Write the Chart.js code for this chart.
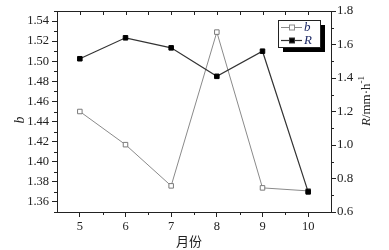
<!DOCTYPE html>
<html>
<head>
<meta charset="utf-8">
<script src="https://cdn.jsdelivr.net/npm/chart.js@4"></script>
<style>
  html, body { margin:0; padding:0; background:#fff; }
  #c { display:block; }
</style>
</head>
<body>
<canvas id="c" width="389" height="250"></canvas>
<script>
// data
const months = [5, 6, 7, 8, 9, 10];
const bValues = [1.450, 1.417, 1.376, 1.529, 1.374, 1.371];
const rValues = [1.515, 1.640, 1.580, 1.410, 1.560, 0.720];

const monthTicks = [5, 6, 7, 8, 9, 10];
const bTicks = [1.36, 1.38, 1.40, 1.42, 1.44, 1.46, 1.48, 1.50, 1.52, 1.54];
const rTicks = [0.6, 0.8, 1.0, 1.2, 1.4, 1.6, 1.8];

const SERIF = "'Liberation Serif', 'DejaVu Serif', serif";
const INK = "#222";

function pts(ys){ return months.map((m,i)=>({x:m, y:ys[i]})); }

// minor ticks, top ticks, frame, titles, legend with shadow
const decor = {
  id: "decor",
  afterDraw(chart){
    const ctx = chart.ctx;
    const a = chart.chartArea;
    const sx = chart.scales.x, sy = chart.scales.y, sr = chart.scales.y1;
    ctx.save();
    ctx.strokeStyle = INK;
    ctx.lineWidth = 1;
    ctx.strokeRect(Math.round(a.left)+0.5, Math.round(a.top)+0.5, Math.round(a.right-a.left), Math.round(a.bottom-a.top));

    ctx.beginPath();
    // x minor (bottom, outward) and top ticks (inward)
    for(let k=9; k<=21; k++){
      const v = k/2;
      const px = Math.round(sx.getPixelForValue(v))+0.5;
      if(k%2===1 && v>sx.min && v<sx.max){ ctx.moveTo(px, a.bottom); ctx.lineTo(px, a.bottom+3); }
      if(v>sx.min && v<sx.max){ ctx.moveTo(px, a.top); ctx.lineTo(px, a.top+4); }
    }
    // left minor
    for(let k=135; k<=155; k+=2){
      const py = Math.round(sy.getPixelForValue(k/100))+0.5;
      ctx.moveTo(a.left-3, py); ctx.lineTo(a.left, py);
    }
    // right minor
    for(let k=7; k<=17; k+=2){
      const py = Math.round(sr.getPixelForValue(k/10))+0.5;
      ctx.moveTo(a.right, py); ctx.lineTo(a.right+3, py);
    }
    ctx.stroke();

    // axis titles
    ctx.fillStyle = INK;
    ctx.textAlign = "center";
    ctx.textBaseline = "middle";
    ctx.save();
    ctx.translate(20, 120);
    ctx.rotate(-Math.PI/2);
    ctx.font = "italic 14px " + SERIF;
    ctx.fillText("b", 0, 0);
    ctx.restore();

    ctx.font = "13px 'Noto Sans CJK SC', sans-serif";
    ctx.fillText("月份", 189, 241);

    ctx.save();
    ctx.translate(367, 101);
    ctx.rotate(-Math.PI/2);
    const f1 = "italic 13px " + SERIF, f2 = "13px " + SERIF, f3 = "9px " + SERIF;
    ctx.font = f1; const w1 = ctx.measureText("R").width;
    ctx.font = f2; const w2 = ctx.measureText("/mm\u00b7h").width;
    ctx.font = f3; const w3 = ctx.measureText("-1").width;
    let x0 = -(w1+w2+w3)/2;
    ctx.textAlign = "left";
    ctx.font = f1; ctx.fillText("R", x0, 0); x0 += w1;
    ctx.font = f2; ctx.fillText("/mm\u00b7h", x0, 0); x0 += w2;
    ctx.font = f3; ctx.fillText("-1", x0, -5);
    ctx.restore();

    // legend box with shadow
    const bx = 278, by = 20, bw = 42, bh = 27;
    ctx.fillStyle = "#000";
    ctx.fillRect(bx+5, by+5, bw, bh);
    ctx.fillStyle = "#fff";
    ctx.fillRect(bx, by, bw, bh);
    ctx.strokeStyle = INK;
    ctx.strokeRect(bx+0.5, by+0.5, bw, bh);
    chart.data.datasets.forEach((ds, i)=>{
      const y = by + 7.5 + i*13;
      ctx.strokeStyle = ds.borderColor;
      ctx.lineWidth = ds.borderWidth;
      ctx.beginPath(); ctx.moveTo(bx+3, y); ctx.lineTo(bx+24, y); ctx.stroke();
      ctx.fillStyle = ds.pointBackgroundColor;
      ctx.lineWidth = 1;
      ctx.fillRect(bx+11.5, y-2.5, 5, 5);
      ctx.strokeRect(bx+11.5, y-2.5, 5, 5);
      ctx.fillStyle = "#1e2a66";
      ctx.font = "italic 13px " + SERIF;
      ctx.textAlign = "left";
      ctx.fillText(ds.label, bx+26, y+0.5);
    });
    ctx.restore();
  }
};

new Chart(document.getElementById("c"), {
  type: "line",
  data: {
    datasets: [
      {
        label: "b", data: pts(bValues), yAxisID: "y", order: 1,
        borderColor: "#8a8a8a", borderWidth: 1,
        pointStyle: "rect", pointRadius: 3.2, pointBackgroundColor: "#fff",
        pointBorderColor: "#7a7a7a", pointBorderWidth: 1, tension: 0
      },
      {
        label: "R", data: pts(rValues), yAxisID: "y1", order: 0,
        borderColor: "#333", borderWidth: 1.2,
        pointStyle: "rect", pointRadius: 3.2, pointBackgroundColor: "#000",
        pointBorderColor: "#000", pointBorderWidth: 1, tension: 0
      }
    ]
  },
  options: {
    responsive: false,
    animation: false,
    devicePixelRatio: 1,
    layout: { padding: { top: 11, left: 0, right: 0, bottom: 0 } },
    plugins: { legend: { display: false }, tooltip: { enabled: false } },
    scales: {
      x: {
        type: "linear", min: 4.5, max: 10.5,
        afterBuildTicks: s => { s.ticks = monthTicks.map(v => ({ value: v })); },
        afterFit: s => { s.height = 38; },
        grid: { display: true, drawOnChartArea: false, drawTicks: true, tickLength: 5, tickColor: INK },
        border: { display: true, color: INK, width: 1 },
        ticks: { color: INK, padding: 2, maxRotation: 0, font: { family: SERIF, size: 12.5 } }
      },
      y: {
        position: "left", min: 1.35, max: 1.55,
        afterBuildTicks: s => { s.ticks = bTicks.map(v => ({ value: v })); },
        afterFit: s => { s.width = 57; },
        grid: { display: true, drawOnChartArea: false, drawTicks: true, tickLength: 5, tickColor: INK },
        border: { display: true, color: INK, width: 1 },
        ticks: { color: INK, padding: 3, font: { family: SERIF, size: 12.5 }, callback: v => v.toFixed(2) }
      },
      y1: {
        position: "right", min: 0.6, max: 1.8,
        afterBuildTicks: s => { s.ticks = rTicks.map(v => ({ value: v })); },
        afterFit: s => { s.width = 58; },
        grid: { display: true, drawOnChartArea: false, drawTicks: true, tickLength: 5, tickColor: INK },
        border: { display: true, color: INK, width: 1 },
        ticks: { color: INK, padding: 1, font: { family: SERIF, size: 13 }, callback: v => v.toFixed(1) }
      }
    }
  },
  plugins: [decor]
});
</script>
</body>
</html>
